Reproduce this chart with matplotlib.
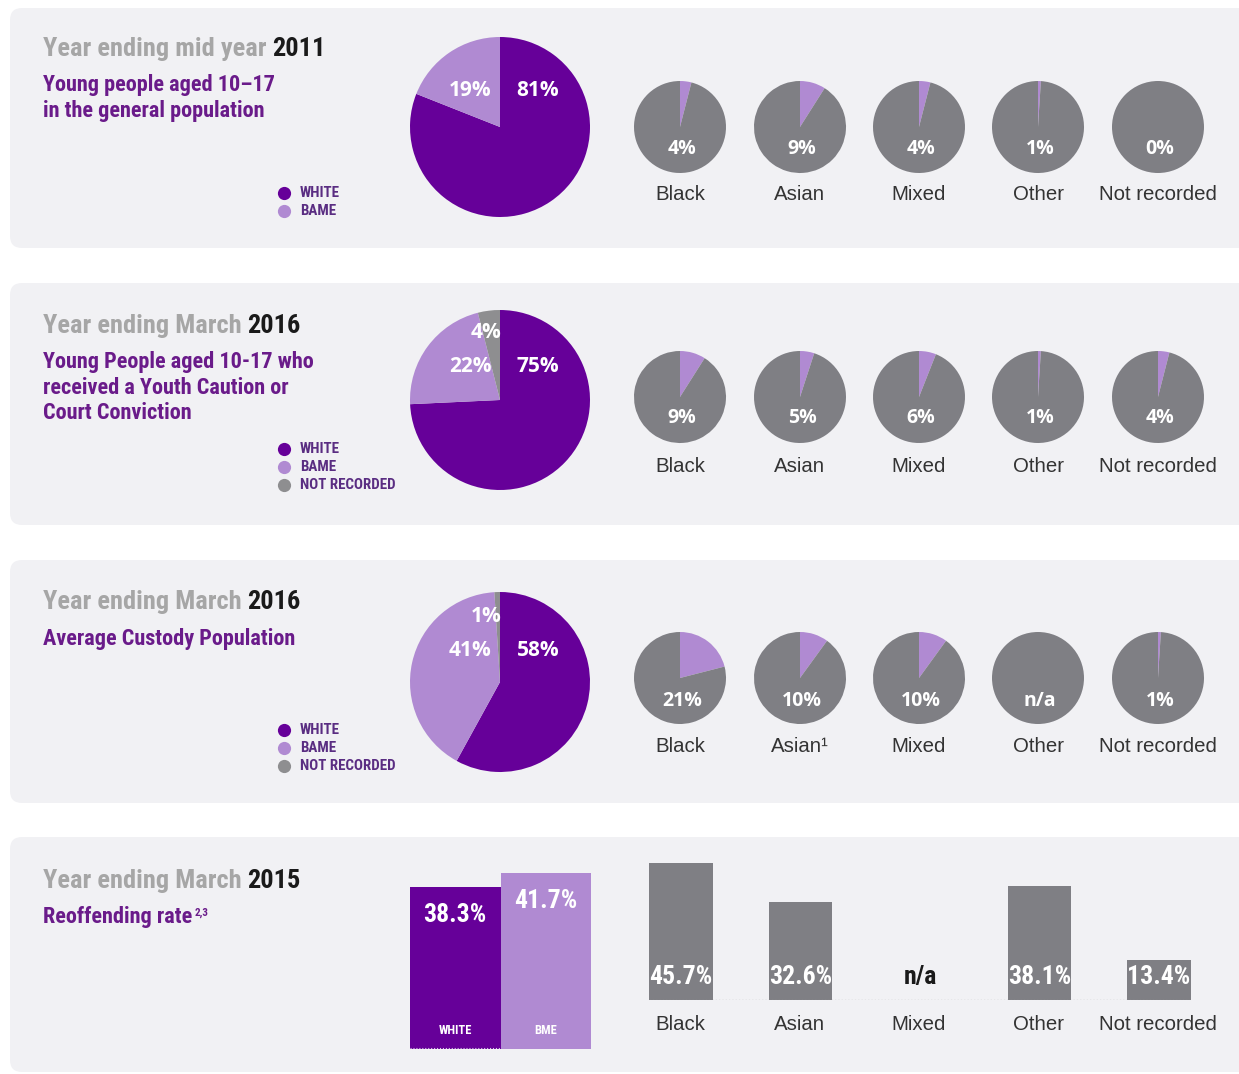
import matplotlib.pyplot as plt
from matplotlib.patches import FancyBboxPatch

# data
groups = ["Black", "Asian", "Mixed", "Other", "Not recorded"]
group_labels_custody = ["Black", "Asian\u00b9", "Mixed", "Other", "Not recorded"]
main_names = ["WHITE", "BAME", "NOT RECORDED"]

pop_2011 = [81, 19]
pop_2011_groups = [4, 9, 4, 1, 0]

caution_2016 = [75, 22, 4]
caution_2016_groups = [9, 5, 6, 1, 4]

custody_2016 = [58, 41, 1]
custody_2016_groups = [21, 10, 10, None, 1]

reoffend_names = ["WHITE", "BME"]
reoffend_main = [38.3, 41.7]
reoffend_groups = [45.7, 32.6, None, 38.1, 13.4]

# styling
W, H = 1239, 1074
PURPLE = "#660099"
LILAC = "#b08ad2"
GREY = "#7f7f84"
NR_GREY = "#8e8e90"
PANEL = "#f1f1f4"
TITLE_GREY = "#a6a6a6"
SUB_PURPLE = "#6a1b8a"
LEG_PURPLE = "#5a2d82"
DARK = "#333333"
NARROW = ["Roboto Condensed", "Archivo Narrow", "Liberation Sans", "DejaVu Sans"]
SANS = ["Liberation Sans", "DejaVu Sans"]
PCT = ["Open Sans", "Liberation Sans", "DejaVu Sans"]

fig = plt.figure(figsize=(W / 100, H / 100), dpi=100)


def px_axes(x0, y0, w, h, z=1):
    ax = fig.add_axes([x0 / W, 1 - (y0 + h) / H, w / W, h / H], zorder=z)
    ax.set_facecolor("none")
    return ax


bg = px_axes(0, 0, W, H, z=0)
bg.set_xlim(0, W)
bg.set_ylim(H, 0)
bg.axis("off")

fg = px_axes(0, 0, W, H, z=10)
fg.set_xlim(0, W)
fg.set_ylim(H, 0)
fg.axis("off")

panels = [(8, 248), (283, 525), (560, 803), (837, 1072)]
for y0, y1 in panels:
    bg.add_patch(FancyBboxPatch((10, y0), 1300, y1 - y0,
                                boxstyle="round,pad=0,rounding_size=12",
                                fc=PANEL, ec="none"))

# titles
titles = [("Year ending mid year", "2011", 49),
          ("Year ending March", "2016", 326),
          ("Year ending March", "2016", 602),
          ("Year ending March", "2015", 881)]
for grey_part, year, y in titles:
    t = fg.text(43, y, grey_part, color=TITLE_GREY, fontsize=19,
                fontweight="bold", family=NARROW, va="center")
    fg.annotate(year, xy=(1, 0), xycoords=t, xytext=(4, 0),
                textcoords="offset points", va="bottom", ha="left",
                color="#1a1a1a", fontsize=19, fontweight="bold", family=NARROW)

subtitles = [(["Young people aged 10\u201317", "in the general population"], 85),
             (["Young People aged 10-17 who", "received a Youth Caution or",
               "Court Conviction"], 362),
             (["Average Custody Population"], 639),
             (["Reoffending rate"], 917)]
for lines, y in subtitles:
    for i, line in enumerate(lines):
        t = fg.text(43, y + i * 25.5, line, color=SUB_PURPLE, fontsize=16,
                    fontweight="bold", family=NARROW, va="center")
fg.annotate("2,3", xy=(1, 1), xycoords=t, xytext=(2, -1),
            textcoords="offset points", va="top", ha="left",
            color=SUB_PURPLE, fontsize=8, fontweight="bold", family=NARROW)

# legends
legend_rows = [(2, 193), (3, 449), (3, 730)]
leg_colors = [PURPLE, LILAC, NR_GREY]
for n, y in legend_rows:
    for i in range(n):
        fg.plot(284, y + i * 17.8, "o", ms=9.5, color=leg_colors[i], mec="none")
        fg.text(300, y + i * 17.8, main_names[i], color=LEG_PURPLE, fontsize=10.8,
                fontweight="bold", family=NARROW, va="center")

# main pies
main_data = [pop_2011, caution_2016, custody_2016]
main_cy = [127, 400, 682]
label_y = [91, 367, 650]
nr_label_y = [None, 333, 616]
R = 90
for vals, cy, ly, nly in zip(main_data, main_cy, label_y, nr_label_y):
    ax = px_axes(500 - R, cy - R, 2 * R, 2 * R, z=2)
    ax.pie(vals, colors=[PURPLE, LILAC, NR_GREY][:len(vals)], startangle=90,
           counterclock=False, radius=1, wedgeprops=dict(linewidth=0))
    ax.set_xlim(-1, 1)
    ax.set_ylim(-1, 1)
    ax.axis("off")
    fg.text(538, ly, f"{vals[0]}%", color="white", fontsize=15,
            fontweight="bold", family=PCT, ha="center", va="center")
    fg.text(470, ly, f"{vals[1]}%", color="white", fontsize=15,
            fontweight="bold", family=PCT, ha="center", va="center")
    if nly is not None:
        fg.text(486, nly, f"{vals[2]}%", color="white", fontsize=15,
                fontweight="bold", family=PCT, ha="center", va="center")

# small pies
small_cx = [680, 800, 919, 1038, 1158]
small_data = [pop_2011_groups, caution_2016_groups, custody_2016_groups]
small_cy = [127, 397, 678]
small_label_y = [149, 418, 701]
cat_y = [194, 466, 747]
cat_names = [groups, groups, group_labels_custody]
r = 46
for vals, cy, ly, cty, names in zip(small_data, small_cy, small_label_y, cat_y, cat_names):
    for cx, v, name in zip(small_cx, vals, names):
        ax = px_axes(cx - r, cy - r, 2 * r, 2 * r, z=2)
        share = 0 if v is None else v
        ax.pie([share, 100 - share], colors=[LILAC, GREY], startangle=90,
               counterclock=False, radius=1, wedgeprops=dict(linewidth=0))
        ax.set_xlim(-1, 1)
        ax.set_ylim(-1, 1)
        ax.axis("off")
        txt = "n/a" if v is None else f"{v}%"
        fg.text(cx + 2, ly, txt, color="white", fontsize=14, fontweight="bold",
                family=PCT, ha="center", va="center")
        fg.text(cx, cty, name, color=DARK, fontsize=14.7, family=SANS,
                ha="center", va="center")

# reoffending: white / BME bars
axb = px_axes(410, 859, 181, 190, z=2)
axb.bar(range(2), reoffend_main, width=1.0, color=[PURPLE, LILAC])
axb.set_xlim(-0.5, 1.5)
axb.set_ylim(0, 45)
axb.axis("off")
for i, (v, name) in enumerate(zip(reoffend_main, reoffend_names)):
    axb.annotate(f"{v}%", xy=(i, v), xytext=(0, -28), textcoords="offset pixels",
                 color="white", fontsize=18.5, fontweight="bold", family=NARROW,
                 ha="center", va="center")
    axb.annotate(name, xy=(i, 0), xytext=(0, 18), textcoords="offset pixels",
                 color="white", fontsize=9, fontweight="bold", family=NARROW,
                 ha="center", va="center")
axb.axhline(0.2, xmin=0, xmax=0.5, color="#d8c8e8", lw=0.8, ls=":")

# reoffending: group bars
axg = px_axes(621.25, 850, 597.5, 150, z=2)
gvals = [0 if v is None else v for v in reoffend_groups]
axg.bar(range(5), gvals, width=0.535, color=GREY)
axg.set_xlim(-0.5, 4.5)
axg.set_ylim(0, 50)
axg.axis("off")
axg.plot([-0.267, 4.267], [0, 0], color="#9a9a9a", lw=0.9, ls=":")
for i, v in enumerate(reoffend_groups):
    if v is None:
        axg.annotate("n/a", xy=(i, 0), xytext=(0, 23), textcoords="offset pixels",
                     color="#1a1a1a", fontsize=18.5, fontweight="bold", family=NARROW,
                     ha="center", va="center")
    else:
        axg.annotate(f"{v}%", xy=(i, 0), xytext=(0, 23), textcoords="offset pixels",
                     color="white", fontsize=18.5, fontweight="bold", family=NARROW,
                     ha="center", va="center")
for cx, name in zip(small_cx, groups):
    fg.text(cx, 1025, name, color=DARK, fontsize=14.7, family=SANS,
            ha="center", va="center")

fig.savefig("out.png", dpi=100, facecolor="white")
